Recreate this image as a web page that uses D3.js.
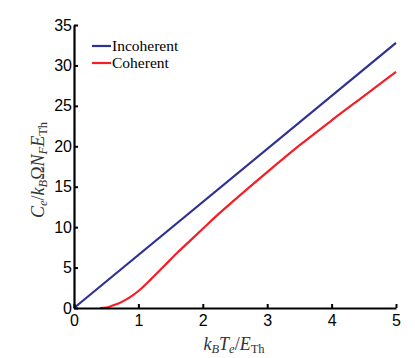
<!DOCTYPE html>
<html><head><meta charset="utf-8">
<script src="https://cdn.jsdelivr.net/npm/d3@7"></script>
<style>body{margin:0;background:#fff}svg{display:block}</style>
</head><body>
<script>
const xTicks = [0,1,2,3,4,5];
const yTicks = [0,5,10,15,20,25,30,35];
const incoherentX = [0,5];
const incoherentY = [0,32.8];
const coherentX = [0.4,0.5,0.6,0.7,0.8,0.9,1.0,1.2,1.4,1.6,1.8,2.0,2.2,2.5,3.0,3.5,4.0,4.5,5.0];
const coherentY = [0,0.05,0.3,0.6,1.0,1.5,2.1,3.6,5.2,6.8,8.3,9.8,11.3,13.4,16.8,20.1,23.2,26.2,29.2];
const seriesNames = ["Incoherent","Coherent"];
const seriesColors = ["#2e3192","#f41e26"];

const W=415,H=358;
const svg=d3.select("body").append("svg").attr("width",W).attr("height",H);
const x=d3.scaleLinear().domain([0,5]).range([74,396]);
const y=d3.scaleLinear().domain([0,35]).range([308,25]);

const line=d3.line().x(d=>x(d[0])).y(d=>y(d[1])).curve(d3.curveMonotoneX);
const series=[d3.zip(incoherentX,incoherentY), d3.zip(coherentX,coherentY)];
series.forEach((s,i)=>{
  svg.append("path").datum(s).attr("d",line)
    .attr("fill","none").attr("stroke",seriesColors[i]).attr("stroke-width",2.2);
});

const xa=svg.append("g").attr("transform","translate(0,308)")
  .call(d3.axisBottom(x).tickValues(xTicks).tickFormat(d3.format("d")).tickSize(-4).tickPadding(7).tickSizeOuter(0));
const ya=svg.append("g").attr("transform","translate(74,0)")
  .call(d3.axisLeft(y).tickValues(yTicks).tickFormat(d3.format("d")).tickSize(-4).tickPadding(2).tickSizeOuter(0));
[xa,ya].forEach(a=>{
  a.select(".domain").attr("stroke","#000").attr("stroke-width",2.2);
  a.selectAll(".tick line").attr("stroke","#000").attr("stroke-width",2);
  a.selectAll("text").attr("font-family","'Liberation Sans', Arial, sans-serif").attr("font-size",16).attr("fill","#000");
});

// legend
const lg=svg.append("g");
seriesNames.forEach((n,i)=>{
  const yy=46+i*17;
  lg.append("line").attr("x1",92).attr("x2",111).attr("y1",yy).attr("y2",yy)
    .attr("stroke",seriesColors[i]).attr("stroke-width",2.2);
  lg.append("text").attr("x",112).attr("y",yy+5).text(n)
    .attr("font-family","'Liberation Serif', 'DejaVu Serif', serif").attr("font-size",15.5).attr("fill","#000");
});

// axis labels
function mathLabel(g, parts){
  const t=g.append("text").attr("font-family","'Liberation Serif', 'DejaVu Serif', serif").attr("font-size",18).attr("fill","#333");
  parts.forEach(p=>{
    const ts=t.append("tspan").text(p.t);
    if(p.it) ts.attr("font-style","italic");
    if(p.sub) ts.attr("font-size",12.5).attr("baseline-shift","-25%");
  });
  return t;
}
const xl=svg.append("g").attr("transform","translate(234,350)");
mathLabel(xl,[{t:"k",it:1},{t:"B",it:1,sub:1},{t:"T",it:1},{t:"e",it:1,sub:1},{t:"/",it:0},{t:"E",it:1},{t:"Th",sub:1}]).attr("text-anchor","middle");
const yl=svg.append("g").attr("transform","translate(44,170) rotate(-90)");
mathLabel(yl,[{t:"C",it:1},{t:"e",it:1,sub:1},{t:"/",it:0},{t:"k",it:1},{t:"B",it:1,sub:1},{t:"Ω",it:0},{t:"N",it:1},{t:"F",it:1,sub:1},{t:"E",it:1},{t:"Th",sub:1}]).attr("text-anchor","middle");
</script>
</body></html>
